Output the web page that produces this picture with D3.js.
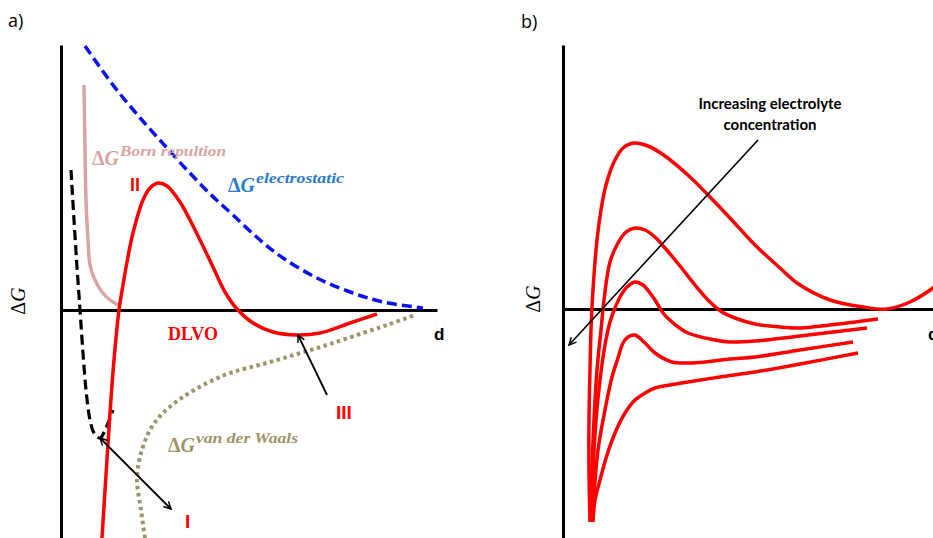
<!DOCTYPE html>
<html>
<head>
<meta charset="utf-8">
<script src="https://cdn.jsdelivr.net/npm/d3@7"></script>
<style>
  html, body { margin: 0; padding: 0; background: #fff; }
  svg { display: block; }
  .axis path { stroke: #000; stroke-width: 3px; }
  .axis .tick { display: none; }
  .sup { font-family: "Liberation Serif", serif; font-weight: bold; font-style: italic; }
</style>
</head>
<body>
<svg id="chart" width="933" height="538"></svg>
<script>
// ── Panel a) — DLVO components (d, ΔG) ───────────────────────
const electrostatic = [[6,52.8],[13,45],[19.8,38.4],[26.5,32.4],[31.5,28],[37.3,23.2],[43,19],
  [49.75,14],[55.5,10.4],[64,6.4],[72.3,3.6],[80.5,1.6],[90.5,0.4]];
const bornRepulsion = [[5.75,45],[6,32],[6.25,22],[6.75,14],[7.25,9],[8.5,6],[10.25,3.6],[12.25,2],[14.25,1]];
const shortRange = [[2.5,28],[3.25,18],[4,8.6],[4.75,0],[5.5,-8.6],[6.25,-16],[7.25,-22],[8.25,-24.6],
  [9.75,-25.6],[11.25,-23.6],[13,-20]];
const dlvo = [[10.25,-45.6],[11.25,-33],[12.25,-20.6],[13.25,-10],[14.5,0],[15.5,5],[16.5,9.6],[18,15.4],
  [20.5,22],[22.25,24.4],[24.25,25.4],[26.5,24.8],[29.75,21.6],[34.75,14],[38,8.6],[41,3.6],[44,0.2],
  [48,-2.6],[53,-4.4],[59,-5],[64.75,-4.6],[72.25,-2.6],[79,-0.8]];
const vanDerWaals = [[21,-45.6],[20,-40],[19,-34],[19.75,-29.4],[22.25,-24],[25.5,-20.6],[30.5,-17.4],
  [36.5,-14.6],[42.25,-12.6],[50.5,-10.8],[59,-8.8],[67.25,-6.8],[75.5,-4.6],[82.25,-2.8],[88.5,-1]];
const arrowIII = [[66.5,-17],[59.25,-5]];
const arrowI = [[9.75,-25.6],[27.5,-39.8]];

// ── Panel b) — increasing electrolyte concentration ──────────
const b1 = [[6.75,-42.6],[6.5,-32.2],[6.5,-22.2],[6.75,-12.2],[7,-4.2],[7.5,3.8],[8.5,13.8],[9.5,19.8],
  [10.75,24.8],[12.75,29.4],[15,32.2],[17.75,33.2],[21.25,32.6],[25.5,30.6],[31.75,26.4],[36.25,22.8],
  [41.75,18.2],[48,12.8],[54.25,8.2],[58.5,5.2],[66.75,1.8],[75,0.4],[81,0],[86.75,1.4],[92.5,4.2],[95.5,6.2]];
const b2 = [[7,-42.6],[7.25,-32.2],[7.75,-22.2],[8.5,-12.2],[9.5,-4.2],[10.25,1.8],[11.75,9.4],[13.75,13.2],
  [15.75,15.4],[18,16.2],[20.5,15.8],[23.25,14.2],[25.5,12.2],[29.25,8.6],[33,4.8],[36.75,1.4],[39.75,-0.6],
  [43,-1.8],[48,-3],[54.25,-3.6],[59.25,-3.8],[66.75,-3.2],[78.75,-2]];
const b3 = [[7.25,-42.6],[7.5,-32.2],[8.25,-22.2],[9.25,-14.2],[10.5,-7.2],[11.75,-2.6],[13,0.2],[14.25,2.4],
  [16,4.4],[18,5.4],[20,4.8],[21.75,3.2],[23,1.8],[25,-0.8],[27.25,-2.6],[31.25,-4.8],[38,-6.2],
  [41.75,-6.6],[48,-6.4],[59.25,-5.4],[76,-3.8]];
const b4 = [[7.25,-42.6],[7.5,-39.6],[8.75,-28.2],[10.5,-20.2],[12.25,-13.6],[13.75,-9.8],[15,-6.8],
  [16.25,-5.6],[18,-5.2],[20.5,-6.8],[23,-8.8],[27.25,-10.6],[31.75,-10.8],[35.5,-10.6],[41.75,-10],
  [48,-9.6],[59.25,-8.2],[72.5,-6.6]];
const b5 = [[7.5,-42.6],[8,-38.2],[9.25,-34.2],[11,-29.2],[13,-24.8],[15.5,-20.8],[18,-18.2],[20.5,-16.8],
  [23,-15.8],[26.75,-15.2],[31.25,-14.6],[39.25,-13.6],[48,-12.6],[59.25,-11],[73.75,-8.8]];
const arrowB = [[48.75,33.8],[1.5,-7.2]];
const noteLines = ["Increasing electrolyte", "concentration"];

const svg = d3.select("#chart");

// arrowheads: open chevrons
const defs = svg.append("defs");
defs.append("marker")
  .attr("id", "head").attr("viewBox", "0 0 10 10")
  .attr("refX", 9).attr("refY", 5)
  .attr("markerWidth", 9).attr("markerHeight", 9)
  .attr("markerUnits", "userSpaceOnUse")
  .attr("orient", "auto-start-reverse")
  .append("path").attr("d", "M1,1 L9,5 L1,9")
  .attr("fill", "none").attr("stroke", "#000").attr("stroke-width", 1.6);

// ── a) ────────────────────────────────────────────────────────
const xa = d3.scaleLinear().domain([0, 94]).range([61, 437]);
const ya = d3.scaleLinear().domain([-45.6, 53]).range([538, 45]);
const lineA = d3.line().x(d => xa(d[0])).y(d => ya(d[1])).curve(d3.curveCatmullRom.alpha(0.5));
const ga = svg.append("g");

ga.append("g").attr("class", "axis").attr("transform", `translate(0,${ya(0)})`)
  .call(d3.axisBottom(xa).ticks(0).tickSizeOuter(0));
ga.append("g").attr("class", "axis").attr("transform", `translate(${xa(0)},0)`)
  .call(d3.axisLeft(ya).ticks(0).tickSizeOuter(0));

ga.append("path").attr("d", lineA(bornRepulsion))
  .attr("fill", "none").attr("stroke", "#dba3a3").attr("stroke-width", 3.5);
ga.append("path").attr("d", lineA(electrostatic))
  .attr("fill", "none").attr("stroke", "#0a14f0").attr("stroke-width", 3.5).attr("stroke-dasharray", "10,5");
ga.append("path").attr("d", lineA(shortRange))
  .attr("fill", "none").attr("stroke", "#000").attr("stroke-width", 3.2).attr("stroke-dasharray", "10,5");
ga.append("path").attr("d", lineA(vanDerWaals))
  .attr("fill", "none").attr("stroke", "#9c9468").attr("stroke-width", 4).attr("stroke-dasharray", "3.5,3.5");
ga.append("path").attr("d", lineA(dlvo))
  .attr("fill", "none").attr("stroke", "#ff0000").attr("stroke-width", 3.5);

ga.append("path").attr("d", d3.line().x(d => xa(d[0])).y(d => ya(d[1]))(arrowIII))
  .attr("stroke", "#000").attr("stroke-width", 1.8).attr("marker-end", "url(#head)");
ga.append("path").attr("d", d3.line().x(d => xa(d[0])).y(d => ya(d[1]))(arrowI))
  .attr("stroke", "#000").attr("stroke-width", 1.8)
  .attr("marker-start", "url(#head)").attr("marker-end", "url(#head)");

// ── b) ────────────────────────────────────────────────────────
const xb = d3.scaleLinear().domain([0, 94]).range([563, 939]);
const yb = d3.scaleLinear().domain([-45.8, 52.8]).range([538, 45]);
const lineB = d3.line().x(d => xb(d[0])).y(d => yb(d[1])).curve(d3.curveCatmullRom.alpha(0.5));
const gb = svg.append("g");

gb.append("g").attr("class", "axis").attr("transform", `translate(0,${yb(0)})`)
  .call(d3.axisBottom(xb).ticks(0).tickSizeOuter(0));
gb.append("g").attr("class", "axis").attr("transform", `translate(${xb(0)},0)`)
  .call(d3.axisLeft(yb).ticks(0).tickSizeOuter(0));

gb.selectAll(".curve").data([b1, b2, b3, b4, b5]).join("path")
  .attr("class", "curve").attr("d", lineB)
  .attr("fill", "none").attr("stroke", "#ff0000").attr("stroke-width", 3.5)
  .attr("stroke-linejoin", "round");

gb.append("path").attr("d", d3.line().x(d => xb(d[0])).y(d => yb(d[1]))(arrowB))
  .attr("stroke", "#000").attr("stroke-width", 1.6).attr("marker-end", "url(#head)");

gb.selectAll(".note").data(noteLines).join("text")
  .attr("class", "note")
  .attr("x", 770).attr("y", (d, i) => 109 + i * 21)
  .attr("text-anchor", "middle")
  .style("font-family", "Lato, sans-serif").style("font-weight", 700).style("font-size", "15px")
  .text(d => d);

// ── Text labels ───────────────────────────────────────────────
const sans = "'Open Sans', sans-serif";
svg.append("text").attr("x", 8).attr("y", 27).style("font-family", sans).style("font-size", "18px").text("a)");
svg.append("text").attr("x", 521).attr("y", 28).style("font-family", sans).style("font-size", "18px").text("b)");

// ΔG axis titles
[[25, 301], [540, 299]].forEach(([x, y]) => {
  const t = svg.append("text")
    .attr("transform", `translate(${x},${y}) rotate(-90)`)
    .attr("text-anchor", "middle")
    .style("font-family", "'Liberation Serif', serif").style("font-size", "20px");
  t.append("tspan").text("Δ");
  t.append("tspan").style("font-style", "italic").text("G");
});

// d axis labels (the right one runs off the edge, as in the source)
[[434, 340], [928, 340]].forEach(([x, y]) => {
  svg.append("text").attr("x", x).attr("y", y)
    .style("font-family", "'Liberation Sans', sans-serif").style("font-weight", "bold").style("font-size", "17px")
    .text("d");
});

// ΔG^component labels
function compLabel(x, y, sup, supLen, color) {
  const t = svg.append("text").attr("class", "sup").attr("x", x).attr("y", y)
    .attr("fill", color).style("font-size", "20px");
  t.append("tspan").style("font-style", "normal").text("Δ");
  t.append("tspan").text("G");
  const w = t.node().getComputedTextLength();
  svg.append("text").attr("class", "sup").attr("x", x + w + 1).attr("y", y - 9)
    .attr("fill", color).style("font-size", "15px")
    .attr("textLength", supLen).attr("lengthAdjust", "spacingAndGlyphs")
    .text(sup);
}
compLabel(92, 165, "Born repultion", 106, "#d9a3a3");
compLabel(228, 192, "electrostatic", 88, "#2a7bc8");
compLabel(168, 452, "van der Waals", 102, "#9c9468");

// region labels
const red = (x, y, s, txt, font) => svg.append("text").attr("x", x).attr("y", y)
  .attr("fill", "#ff0000").style("font-family", font).style("font-weight", "bold").style("font-size", s + "px").text(txt);
red(168, 340, 18, "DLVO", "'Liberation Serif', serif");
red(130, 191, 18, "II", "'Liberation Sans', sans-serif");
red(336, 419, 19, "III", "'Liberation Sans', sans-serif");
red(185, 528, 19, "I", "'Liberation Sans', sans-serif");
</script>
</body>
</html>
